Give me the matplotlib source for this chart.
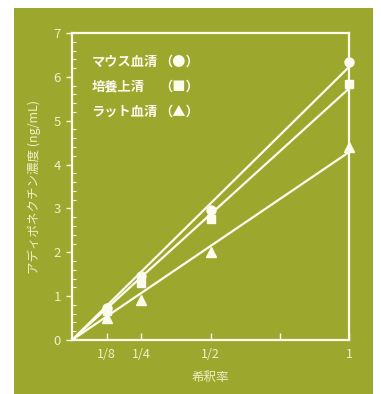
import numpy as np
import matplotlib
matplotlib.use("Agg")
import matplotlib.pyplot as plt
from matplotlib.patches import Rectangle

plt.rcParams['font.family'] = ['Noto Sans CJK JP', 'DejaVu Sans']

# 希釈率とアディポネクチン濃度
dilution = [1/8, 1/4, 1/2, 1]
dilution_labels = ["1/8", "1/4", "1/2", "", "1"]
mouse_serum = [0.72, 1.45, 2.97, 6.33]
culture_sup = [0.65, 1.30, 2.76, 5.83]
rat_serum = [0.50, 0.91, 2.00, 4.40]
series_names = ["マウス血清", "培養上清", "ラット血清"]
series_marks = ["（●）", "（■）", "（▲）"]

bg = '#9ca72d'
fg = '#fbfbee'
lab = '#eef0c8'

fig = plt.figure(figsize=(3.81, 3.94), dpi=100, facecolor='white')
fig.patches.append(Rectangle((14/381, 0), 359/381, 386/394, transform=fig.transFigure,
                             facecolor=bg, edgecolor='none', zorder=-10))

ax = fig.add_axes([72/381, 54/394, 277/381, 307/394])
ax.set_facecolor('none')
ax.set_zorder(5)

x = np.array(dilution)
xx = np.array([0, 1.0])
for ys, mk, ms in [(mouse_serum, 'o', 6.5), (culture_sup, 's', 6), (rat_serum, '^', 7)]:
    ys = np.array(ys)
    # 原点を通る回帰直線
    slope = np.sum(x * ys) / np.sum(x * x)
    ax.plot(xx, slope * xx, color=fg, lw=1.6, zorder=3)
    ax.plot(x, ys, ls='none', marker=mk, ms=ms, color=fg, mec=fg, zorder=4, clip_on=False)

ax.set_xlim(0, 1)
ax.set_ylim(0, 7)
ax.set_xticks([1/8, 1/4, 1/2, 3/4, 1])
ax.set_xticklabels(dilution_labels)
ax.set_yticks(range(0, 8))
ax.set_yticks(np.arange(0, 7.01, 0.2), minor=True)

for s in ax.spines.values():
    s.set_color(fg)
    s.set_linewidth(1.6)

ax.tick_params(axis='x', direction='in', length=5, width=1, color=fg, labelcolor=lab,
               labelsize=9, pad=6)
ax.tick_params(axis='y', which='major', direction='out', length=4, width=1, color=fg,
               labelcolor=lab, labelsize=9.5, pad=4)
ax.tick_params(axis='y', which='minor', direction='in', length=3, width=0.8, color=fg)
ax.tick_params(axis='x', which='minor', bottom=False)

ax.set_xlabel("希釈率", color=lab, fontsize=9, labelpad=7)
ax.set_ylabel("アディポネクチン濃度 (ng/mL)", color=lab, fontsize=9, labelpad=9)

for i, (name, mark) in enumerate(zip(series_names, series_marks)):
    yy = 0.905 - i * 0.08
    ax.text(0.07, yy, name, transform=ax.transAxes, color=fg,
            fontsize=9.5, fontweight='bold', va='center', ha='left')
    ax.text(0.46, yy, mark, transform=ax.transAxes, color=fg,
            fontsize=9.5, fontweight='bold', va='center', ha='right')

fig.savefig("out.png", dpi=100, facecolor='white')
